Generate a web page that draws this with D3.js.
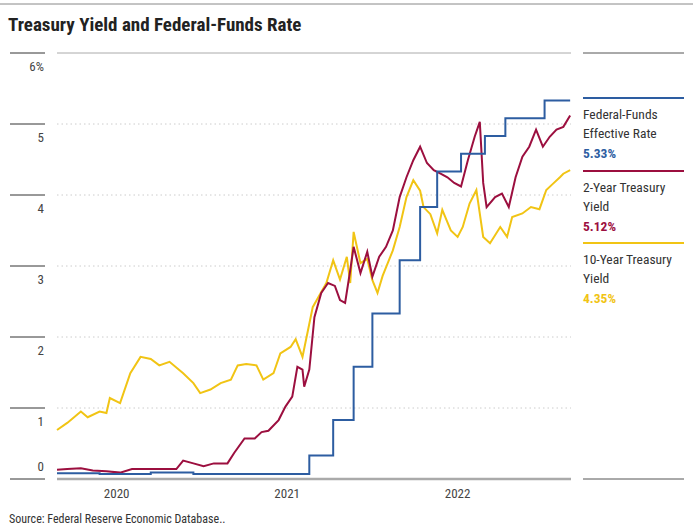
<!DOCTYPE html>
<html><head><meta charset="utf-8">
<script src="https://cdn.jsdelivr.net/npm/d3@7"></script>
<style>body{margin:0;background:#fff}text{font-family:"Liberation Sans Narrow","Roboto Condensed",Roboto,sans-serif}</style>
</head><body><svg id="c" width="693" height="532"></svg>
<script>
const yTicks=[0,1,2,3,4,5,6];
const xTicks=[2020,2021,2022];
const tenT=[2019.65,2019.71,2019.79,2019.83,2019.90,2019.94,2019.96,2020.02,2020.08,2020.14,2020.20,2020.25,2020.31,2020.39,2020.45,2020.49,2020.55,2020.61,2020.67,2020.71,2020.76,2020.82,2020.86,2020.92,2020.96,2021.02,2021.05,2021.09,2021.15,2021.23,2021.27,2021.31,2021.35,2021.37,2021.39,2021.43,2021.47,2021.50,2021.53,2021.56,2021.62,2021.66,2021.70,2021.74,2021.78,2021.80,2021.84,2021.88,2021.91,2021.96,2022.00,2022.03,2022.07,2022.11,2022.15,2022.19,2022.25,2022.29,2022.32,2022.38,2022.43,2022.48,2022.52,2022.56,2022.60,2022.62,2022.66];
const tenV=[0.69,0.79,0.95,0.87,0.95,0.93,1.14,1.07,1.49,1.72,1.69,1.60,1.65,1.49,1.35,1.21,1.26,1.35,1.40,1.60,1.62,1.60,1.40,1.49,1.77,1.86,1.97,1.72,2.42,2.76,3.08,2.81,3.13,2.76,3.48,3.04,3.10,2.80,2.62,2.86,3.22,3.55,3.97,4.21,4.06,3.83,3.73,3.46,3.79,3.50,3.41,3.55,3.88,4.07,3.41,3.32,3.55,3.41,3.69,3.74,3.83,3.80,4.07,4.16,4.25,4.30,4.35];
const twoT=[2019.65,2019.71,2019.79,2019.86,2019.94,2020.02,2020.09,2020.19,2020.29,2020.35,2020.39,2020.45,2020.51,2020.57,2020.65,2020.69,2020.75,2020.81,2020.85,2020.89,2020.95,2020.99,2021.03,2021.06,2021.09,2021.10,2021.13,2021.16,2021.20,2021.24,2021.28,2021.31,2021.34,2021.37,2021.39,2021.43,2021.47,2021.50,2021.54,2021.58,2021.62,2021.66,2021.70,2021.74,2021.78,2021.82,2021.86,2021.90,2021.94,2021.98,2022.02,2022.06,2022.10,2022.13,2022.15,2022.17,2022.22,2022.26,2022.30,2022.34,2022.38,2022.42,2022.46,2022.50,2022.54,2022.58,2022.62,2022.66];
const twoV=[0.13,0.14,0.15,0.12,0.11,0.09,0.14,0.14,0.14,0.14,0.26,0.22,0.18,0.22,0.22,0.37,0.57,0.57,0.66,0.68,0.83,1.02,1.16,1.58,1.54,1.30,1.54,2.28,2.62,2.76,2.72,2.52,2.48,2.94,3.27,2.90,3.20,2.85,3.13,3.27,3.50,3.97,4.25,4.49,4.68,4.45,4.35,4.30,4.25,4.17,4.12,4.49,4.82,5.03,4.17,3.83,3.97,4.02,3.83,4.25,4.54,4.68,4.92,4.68,4.82,4.92,4.96,5.12];
const ffT=[2019.65,2019.90,2020.20,2020.45,2021.13,2021.27,2021.39,2021.50,2021.66,2021.78,2021.88,2022.02,2022.16,2022.28,2022.51,2022.66];
const ffV=[0.08,0.07,0.09,0.07,0.33,0.83,1.58,2.33,3.08,3.83,4.33,4.58,4.83,5.08,5.33,5.33];
const legend=[{n:["Federal-Funds","Effective Rate"],v:"5.33%",c:"#2d5da1"},{n:["2-Year Treasury","Yield"],v:"5.12%",c:"#9c0f3f"},{n:["10-Year Treasury","Yield"],v:"4.35%",c:"#f1c414"}];

const svg=d3.select("#c");
const x=d3.scaleLinear().domain([2019.65,2022.665]).range([57,571]);
const y=d3.scaleLinear().domain([0,6]).range([479,53]);
svg.append("line").attr("x1",0).attr("x2",693).attr("y1",4).attr("y2",4).attr("stroke","#888");
svg.append("text").attr("x",8).attr("y",31).attr("font-size",19).attr("font-weight","bold").attr("fill","#222").text("Treasury Yield and Federal-Funds Rate");
yTicks.forEach(t=>{
  const yy=y(t);
  svg.append("line").attr("x1",10).attr("x2",45).attr("y1",yy).attr("y2",yy).attr("stroke","#333");
  if(t>0&&t<6) svg.append("line").attr("x1",57).attr("x2",571).attr("y1",yy).attr("y2",yy).attr("stroke","#ccc").attr("stroke-dasharray","1.5,3");
  svg.append("text").attr("x",44).attr("y",t===0?yy-8:yy+18).attr("text-anchor","end").attr("font-size",13).attr("fill","#444").text(t===6?"6%":t);
});
svg.append("line").attr("x1",57).attr("x2",571).attr("y1",y(6)).attr("y2",y(6)).attr("stroke","#aaa");
svg.append("line").attr("x1",57).attr("x2",571).attr("y1",y(0)).attr("y2",y(0)).attr("stroke","#aaa").attr("stroke-width",2.5);
xTicks.forEach(t=>svg.append("text").attr("x",x(t)).attr("y",498).attr("text-anchor","middle").attr("font-size",13).attr("fill","#444").text(t));
const line=d3.line().x(d=>x(d[0])).y(d=>y(d[1]));
const step=d3.line().curve(d3.curveStepAfter).x(d=>x(d[0])).y(d=>y(d[1]));
svg.append("path").attr("d",line(d3.zip(tenT,tenV))).attr("fill","none").attr("stroke",legend[2].c).attr("stroke-width",2);
svg.append("path").attr("d",line(d3.zip(twoT,twoV))).attr("fill","none").attr("stroke",legend[1].c).attr("stroke-width",2);
svg.append("path").attr("d",step(d3.zip(ffT,ffV))).attr("fill","none").attr("stroke",legend[0].c).attr("stroke-width",2);
svg.append("line").attr("x1",583).attr("x2",684).attr("y1",53).attr("y2",53).attr("stroke","#555");
svg.append("line").attr("x1",583).attr("x2",684).attr("y1",479).attr("y2",479).attr("stroke","#555");
const ly=[98,171,243];
legend.forEach((l,i)=>{
  const g=svg.append("g").attr("transform",`translate(583,${ly[i]})`);
  g.append("line").attr("x1",0).attr("x2",101).attr("stroke",l.c).attr("stroke-width",2);
  l.n.forEach((s,j)=>g.append("text").attr("x",0).attr("y",21+j*19).attr("font-size",13.5).attr("fill","#333").text(s));
  g.append("text").attr("x",0).attr("y",21+l.n.length*19+1).attr("font-size",13.5).attr("font-weight","bold").attr("fill",l.c).text(l.v);
});
svg.append("text").attr("x",9).attr("y",523).attr("font-size",12).attr("fill","#333").text("Source: Federal Reserve Economic Database..");
</script></body></html>
